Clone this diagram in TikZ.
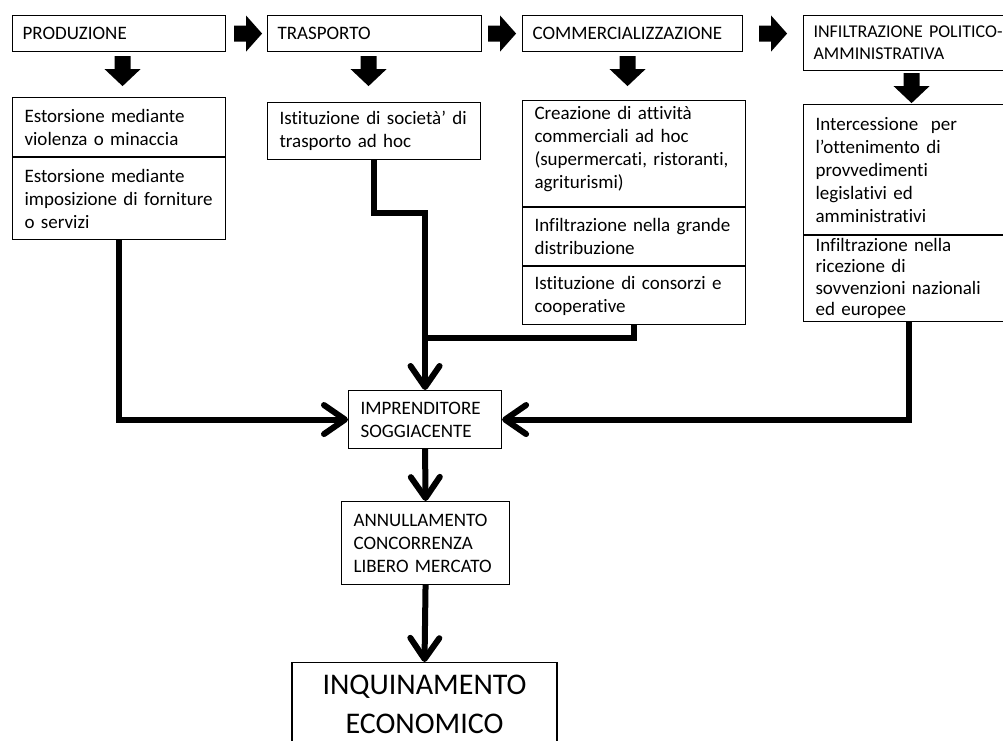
\documentclass[tikz,border=0pt]{standalone}
\usepackage{fontspec}
\setmainfont{Carlito}[Ligatures=NoCommon]
\usetikzlibrary{arrows.meta,calc}
\begin{document}
\begin{tikzpicture}[x=1pt,y=-1pt,
  tbox/.style={draw, line width=1.1pt, anchor=north west, inner xsep=10pt, inner ysep=0pt, align=left, font=\fontsize{19}{23}\selectfont},
  bbox/.style={tbox, inner xsep=12pt},
  conn/.style={line width=6pt, line join=miter},
  tip/.style={-{Straight Barb[length=21pt,width=29pt,round]}},
  rarr/.pic={\fill (0,-8) -- (12,-8) -- (12,-18) -- (28,0) -- (12,18) -- (12,8) -- (0,8) -- cycle;},
  darr/.pic={\fill (-8,0) -- (8,0) -- (8,13) -- (18,13) -- (0,30) -- (-18,13) -- (-8,13) -- cycle;}
]
\useasboundingbox (0,0) rectangle (1003,740);
\clip (0,0) rectangle (1003,740);
% top row
\node[tbox, text width=193pt, minimum height=36pt] (prod) at (12,15) {PRODUZIONE};
\node[tbox, text width=194pt, minimum height=36pt] (trasp) at (267,15) {TRASPORTO};
\node[tbox, text width=200pt, minimum height=36pt] (comm) at (522,15) {COMMERCIALIZZAZIONE};
\node[tbox, text width=190pt, minimum height=55pt, font=\fontsize{18}{22}\selectfont] (infil) at (803,15) {INFILTRAZIONE POLITICO-\\AMMINISTRATIVA};
% block arrows
\pic at ($(prod.east)+(8,0)$) {rarr};
\pic at ($(trasp.east)+(6,0)$) {rarr};
\pic at ($(comm.east)+(16,0)$) {rarr};
\pic at ($(prod.south)+(3.5,4)$) {darr};
\pic at ($(trasp.south)+(-6,4)$) {darr};
\pic at ($(comm.south)+(-5,4)$) {darr};
\pic at ($(infil.south)+(3,2)$) {darr};
% body boxes
\node[bbox, text width=189pt, minimum height=59pt] (p1) at (12,97) {Estorsione mediante\\violenza o minaccia};
\node[bbox, text width=189pt, minimum height=82pt] (p2) at (p1.south west) {Estorsione mediante\\imposizione di forniture\\o servizi};
\node[bbox, text width=189pt, minimum height=57pt] (t1) at (267,102) {Istituzione di società’ di\\trasporto ad hoc};
\node[bbox, text width=199pt, minimum height=106pt] (c1) at (522,100) {Creazione di attività\\commerciali ad hoc\\(supermercati, ristoranti,\\agriturismi)\vspace{9pt}};
\node[bbox, text width=199pt, minimum height=58pt] (c2) at (c1.south west) {Infiltrazione nella grande\\distribuzione};
\node[bbox, text width=199pt, minimum height=58pt] (c3) at (c2.south west) {Istituzione di consorzi e\\cooperative};
\node[bbox, text width=186pt, minimum height=130pt] (i1) at (803,104) {Intercessione\ \ per\\l’ottenimento di\\provvedimenti\\legislativi ed\\amministrativi};
\node[bbox, text width=186pt, minimum height=86pt, font=\fontsize{19}{21.5}\selectfont] (i2) at (i1.south west) {Infiltrazione nella\\ricezione di\\sovvenzioni nazionali\\ed europee};
% central boxes
\node[bbox, text width=129pt, minimum height=58pt] (impr) at (348,390) {IMPRENDITORE\\SOGGIACENTE};
\node[bbox, text width=144pt, minimum height=83pt] (ann) at (341,501) {ANNULLAMENTO\\CONCORRENZA\\LIBERO MERCATO};
\node[tbox, anchor=north, text width=245pt, inner ysep=12pt, align=center, font=\fontsize{30}{39}\selectfont] (inq) at (424.5,662) {INQUINAMENTO\\ECONOMICO};
% connectors
\draw[conn, tip] (p2.south) |- (impr.west);
\draw[conn, tip] (t1.south) -- ++(0,53) -| (impr.north);
\draw[conn] (c3.south) |- ($(impr.north)+(0,-52)$);
\draw[conn, tip] (i2.south) |- (impr.east);
\draw[conn, tip] (impr.south) -- (ann.north);
\draw[conn, tip] (ann.south) -- (inq.north);
\end{tikzpicture}
\end{document}
